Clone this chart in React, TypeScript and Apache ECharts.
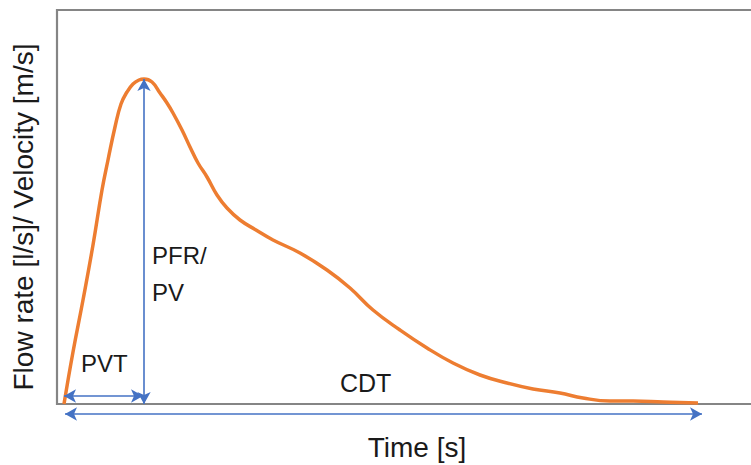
import React, { useEffect, useRef } from "react";
import * as echarts from "echarts";

// Curve samples (time units, flow units)
const timeValues = [7, 16, 26, 36, 45, 51, 58, 64, 70, 76, 82, 87, 95, 103, 110, 116, 125, 133, 141, 150, 160, 170, 183, 199, 216, 243, 270, 293, 316, 343, 370, 396, 423, 450, 476, 503, 526, 553, 576, 606, 641];
const flowValues = [0, 52, 104, 159, 214, 244, 277, 300, 312, 320, 324, 325, 322, 311, 301, 291, 274, 257, 241, 227, 209, 196, 184, 174, 164, 151, 134, 116, 94, 74, 56, 41, 29, 21, 15, 11, 6, 3, 3, 2, 1];

// Annotation arrows
const peakTime = 87;
const peakFlow = 325;
const pvtRange = [7, 86];
const pvtLevel = 8;
const cdtRange = [8, 645];

const xMax = 704;
const yMax = 394;

const FONT = "'Liberation Sans', Arial, sans-serif";
const BLUE = "#4472C4";
const ORANGE = "#ED7D31";
const TEXT = "#1a1a1a";

export default function App() {
  const ref = useRef<HTMLDivElement>(null);
  useEffect(() => {
    const chart = echarts.init(ref.current!, null, { renderer: "svg" });
    const arrowLine = (a: number[], b: number[]) => [
      { coord: a, symbol: "arrow" },
      { coord: b, symbol: "arrow" },
    ];
    const hiddenAxis = {
      type: "value",
      axisLine: { show: false },
      axisTick: { show: false },
      axisLabel: { show: false },
      splitLine: { show: false },
    };
    const markStyle = {
      silent: true,
      symbolSize: [10, 12],
      label: { show: false },
      lineStyle: { color: BLUE, width: 1.6, type: "solid" },
    };
    chart.setOption({
      animation: false,
      backgroundColor: "#ffffff",
      grid: [
        {
          left: 57,
          right: 19,
          top: 10,
          bottom: 61,
          show: true,
          borderColor: "#858585",
          borderWidth: 2.2,
          backgroundColor: "transparent",
        },
        { left: 57, right: 19, top: 404, height: 20, show: false },
      ],
      xAxis: [
        { ...hiddenAxis, gridIndex: 0, min: 0, max: xMax },
        { ...hiddenAxis, gridIndex: 1, min: 0, max: xMax },
      ],
      yAxis: [
        { ...hiddenAxis, gridIndex: 0, min: 0, max: yMax },
        { ...hiddenAxis, gridIndex: 1, min: -1, max: 1 },
      ],
      series: [
        {
          type: "line",
          xAxisIndex: 0,
          yAxisIndex: 0,
          data: timeValues.map((t, i) => [t, flowValues[i]]),
          smooth: 0.45,
          showSymbol: false,
          lineStyle: { color: ORANGE, width: 3.5 },
          markLine: {
            ...markStyle,
            data: [
              arrowLine([peakTime, 0], [peakTime, peakFlow]),
              arrowLine([pvtRange[0], pvtLevel], [pvtRange[1], pvtLevel]),
            ],
          },
        },
        {
          type: "line",
          xAxisIndex: 1,
          yAxisIndex: 1,
          data: cdtRange.map((t) => [t, 0]),
          showSymbol: false,
          lineStyle: { opacity: 0 },
          markLine: {
            ...markStyle,
            data: [arrowLine([cdtRange[0], 0], [cdtRange[1], 0])],
          },
        },
      ],
      graphic: [
        {
          type: "text",
          x: 23,
          y: 217,
          rotation: Math.PI / 2,
          style: {
            text: "Flow rate [l/s]/ Velocity [m/s]",
            font: `28px ${FONT}`,
            fill: TEXT,
            align: "center",
            verticalAlign: "middle",
          },
        },
        {
          type: "text",
          x: 417,
          y: 447,
          style: {
            text: "Time [s]",
            font: `28px ${FONT}`,
            fill: TEXT,
            align: "center",
            verticalAlign: "middle",
          },
        },
        {
          type: "text",
          x: 81,
          y: 363,
          style: { text: "PVT", font: `24px ${FONT}`, fill: TEXT, verticalAlign: "middle" },
        },
        {
          type: "text",
          x: 152,
          y: 255,
          style: { text: "PFR/", font: `24px ${FONT}`, fill: TEXT, verticalAlign: "middle" },
        },
        {
          type: "text",
          x: 152,
          y: 292,
          style: { text: "PV", font: `24px ${FONT}`, fill: TEXT, verticalAlign: "middle" },
        },
        {
          type: "text",
          x: 340,
          y: 383,
          style: { text: "CDT", font: `25px ${FONT}`, fill: TEXT, verticalAlign: "middle" },
        },
      ],
    });
    return () => chart.dispose();
  }, []);
  return (
    <div
      style={{
        position: "fixed",
        left: 0,
        top: 0,
        width: 751,
        height: 465,
        overflow: "hidden",
        background: "#fff",
      }}
    >
      <div ref={ref} style={{ width: 780, height: 465 }} />
    </div>
  );
}
